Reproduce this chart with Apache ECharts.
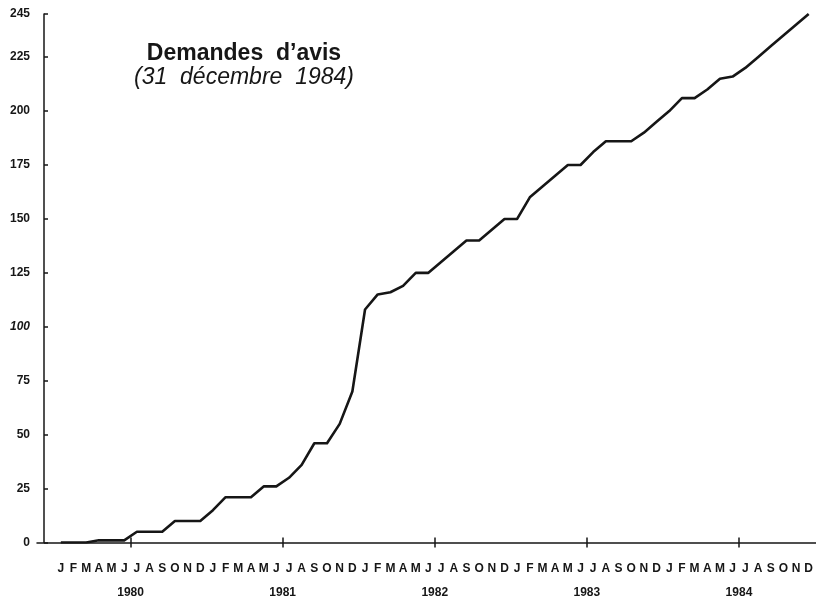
<!DOCTYPE html>
<html>
<head>
<meta charset="utf-8">
<script src="https://cdn.jsdelivr.net/npm/echarts@6/dist/echarts.min.js"></script>
<style>
  html, body { margin: 0; padding: 0; background: #fff; }
  #main { width: 816px; height: 603px; }
</style>
</head>
<body>
<div id="main"></div>
<script>
// monthly cumulative count of "demandes d'avis", Jan 1980 - Dec 1984
var years = ['1980', '1981', '1982', '1983', '1984'];
var monthLetters = ['J', 'F', 'M', 'A', 'M', 'J', 'J', 'A', 'S', 'O', 'N', 'D'];
var demandes = [
  0, 0, 0, 1, 1, 1, 5, 5, 5, 10, 10, 10,
  15, 21, 21, 21, 26, 26, 30, 36, 46, 46, 55, 70,
  108, 115, 116, 119, 125, 125, 130, 135, 140, 140, 145, 150,
  150, 160, 165, 170, 175, 175, 181, 186, 186, 186, 190, 195,
  200, 206, 206, 210, 215, 216, 220, 225, 230, 235, 240, 245
];
var yTicks = [0, 25, 50, 75, 100, 125, 150, 175, 200, 225, 245];

var months = [];
years.forEach(function (y) {
  monthLetters.forEach(function (m, k) { months.push(y + '-' + (k + 1)); });
});

var font = 'Liberation Sans, Arial, sans-serif';
var ink = '#161616';
var chart = echarts.init(document.getElementById('main'));

var option = {
  backgroundColor: '#fff',
  animation: false,
  title: {
    text: 'Demandes  d\u2019avis',
    subtext: '(31  décembre  1984)',
    left: 239,
    top: 37,
    textAlign: 'center',
    itemGap: 1,
    textStyle: { fontFamily: font, fontSize: 23, fontWeight: 'bold', color: ink },
    subtextStyle: { fontFamily: font, fontSize: 23, fontStyle: 'italic', color: ink }
  },
  grid: [
    { left: 54.5, right: 0, top: 14, bottom: 60.5 },
    { left: 37, right: 0, top: 14, bottom: 60.5 }
  ],
  xAxis: [
    {
      // months
      type: 'category',
      gridIndex: 0,
      position: 'bottom',
      data: months,
      boundaryGap: true,
      axisLine: { show: false },
      axisTick: { show: false },
      axisLabel: {
        interval: 0,
        margin: 20,
        fontFamily: font,
        fontSize: 12,
        fontWeight: 'bold',
        color: ink,
        formatter: function (v, i) { return monthLetters[i % 12]; }
      },
      splitLine: { show: false }
    },
    {
      // years, tick mark above the line
      type: 'category',
      gridIndex: 0,
      position: 'bottom',
      data: years,
      axisLine: { show: false },
      axisTick: {
        show: true,
        alignWithLabel: true,
        inside: true,
        length: 5,
        lineStyle: { color: ink, width: 1.5 }
      },
      axisLabel: {
        margin: 44,
        fontFamily: font,
        fontSize: 12,
        fontWeight: 'bold',
        color: ink
      },
      splitLine: { show: false }
    },
    {
      // years, tick mark below the line
      type: 'category',
      gridIndex: 0,
      position: 'bottom',
      data: years,
      axisLine: { show: false },
      axisTick: {
        show: true,
        alignWithLabel: true,
        length: 5,
        lineStyle: { color: ink, width: 1.5 }
      },
      axisLabel: { show: false },
      splitLine: { show: false }
    },
    {
      // long base line, runs a little left of the y axis
      type: 'value',
      gridIndex: 1,
      min: 0,
      max: 1,
      axisLine: { show: true, lineStyle: { color: ink, width: 1.5 } },
      axisTick: { show: false },
      axisLabel: { show: false },
      splitLine: { show: false }
    }
  ],
  yAxis: [
    {
      type: 'value',
      gridIndex: 0,
      min: 0,
      max: 245,
      offset: 10.5,
      axisLine: { show: true, lineStyle: { color: ink, width: 1.5 } },
      axisTick: {
        show: true,
        inside: true,
        length: 4,
        customValues: yTicks,
        lineStyle: { color: ink, width: 1.5 }
      },
      axisLabel: {
        margin: 14,
        customValues: yTicks,
        fontFamily: font,
        fontSize: 12,
        fontWeight: 'bold',
        color: ink,
        formatter: function (v) { return v === 100 ? '{it|100}' : String(v); },
        rich: { it: { fontStyle: 'italic', fontFamily: font, fontSize: 12, color: ink } }
      },
      splitLine: { show: false }
    },
    { type: 'value', gridIndex: 1, show: false, min: 0, max: 1 }
  ],
  series: [
    {
      name: 'Demandes d\u2019avis',
      type: 'line',
      xAxisIndex: 0,
      yAxisIndex: 0,
      data: demandes,
      symbol: 'none',
      lineStyle: { color: ink, width: 2.6, join: 'round' }
    }
  ]
};

chart.setOption(option);
</script>
</body>
</html>
